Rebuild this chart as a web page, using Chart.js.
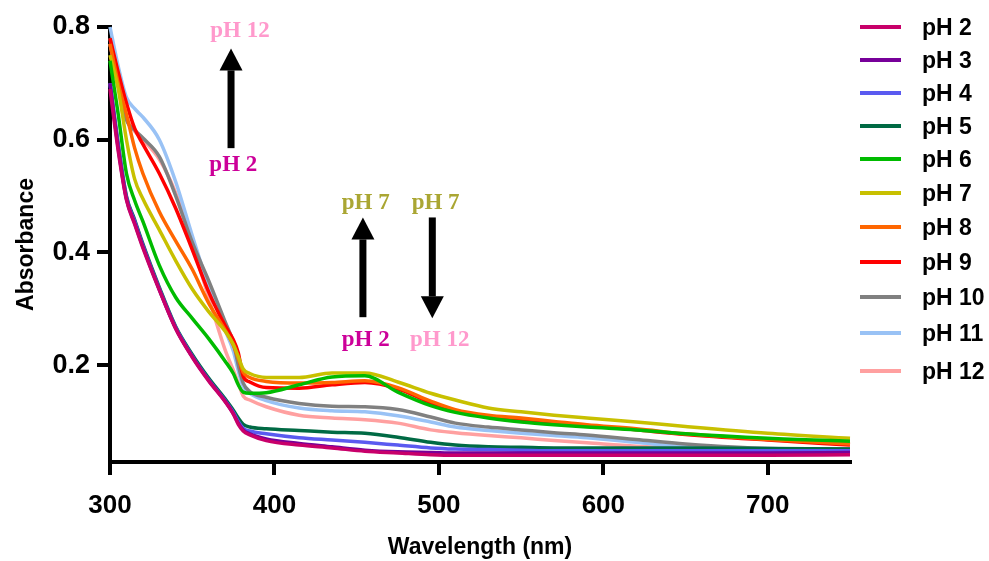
<!DOCTYPE html>
<html>
<head>
<meta charset="utf-8">
<script src="https://cdn.jsdelivr.net/npm/chart.js@4.4.0/dist/chart.umd.min.js"></script>
<style>
  html, body { margin: 0; padding: 0; background: #ffffff; }
  #wrap { position: relative; width: 989px; height: 561px; }
  #legend { position: absolute; left: 0; top: 0; width: 989px; height: 561px; pointer-events: none; }
  .li { position: absolute; left: 860px; height: 30px; display: flex; align-items: center; }
  .sw { width: 41px; height: 4px; margin-right: 21px; }
  .lt { font-family: "Liberation Sans", Arial, sans-serif; font-weight: bold; font-size: 23px; color: #000; white-space: nowrap; }
</style>
</head>
<body>
<div id="wrap">
  <canvas id="c" width="989" height="561"></canvas>
  <div id="legend"></div>
</div>
<script>
// ---- data ----
const wavelengths = [300,305,310,315,320,330,340,350,360,370,375,378,381,385,395,415,435,455,475,495,510,530,550,570,590,620,650,700,750];

const seriesNames = ["pH 2","pH 3","pH 4","pH 5","pH 6","pH 7","pH 8","pH 9","pH 10","pH 11","pH 12"];

const pH2  = [0.690,0.580,0.493,0.450,0.408,0.333,0.264,0.214,0.172,0.135,0.113,0.095,0.083,0.076,0.066,0.058,0.053,0.047,0.044,0.041,0.040,0.040,0.040,0.040,0.040,0.040,0.040,0.040,0.041];
const pH3  = [0.700,0.585,0.495,0.452,0.410,0.334,0.265,0.215,0.173,0.136,0.114,0.097,0.085,0.078,0.069,0.061,0.055,0.049,0.046,0.045,0.044,0.044,0.044,0.044,0.044,0.044,0.044,0.044,0.045];
const pH4  = [0.700,0.590,0.497,0.455,0.412,0.335,0.266,0.216,0.174,0.137,0.116,0.100,0.088,0.083,0.078,0.071,0.067,0.063,0.058,0.053,0.051,0.050,0.049,0.048,0.048,0.048,0.048,0.048,0.048];
const pH5  = [0.700,0.592,0.500,0.458,0.415,0.338,0.268,0.219,0.177,0.140,0.120,0.106,0.095,0.090,0.087,0.084,0.081,0.079,0.072,0.063,0.058,0.055,0.054,0.053,0.053,0.053,0.053,0.052,0.051];
const pH6  = [0.740,0.645,0.540,0.492,0.455,0.377,0.320,0.283,0.247,0.207,0.185,0.165,0.152,0.150,0.151,0.165,0.179,0.181,0.152,0.128,0.116,0.106,0.099,0.094,0.090,0.085,0.078,0.070,0.065];
const pH7  = [0.750,0.690,0.600,0.530,0.495,0.440,0.385,0.335,0.295,0.260,0.237,0.215,0.193,0.185,0.178,0.178,0.186,0.186,0.170,0.150,0.138,0.124,0.117,0.111,0.106,0.099,0.091,0.079,0.070];
const pH8  = [0.770,0.700,0.645,0.585,0.540,0.472,0.420,0.370,0.310,0.262,0.235,0.212,0.187,0.178,0.171,0.168,0.169,0.172,0.160,0.136,0.121,0.111,0.106,0.100,0.094,0.087,0.078,0.068,0.060];
const pH9  = [0.780,0.720,0.665,0.620,0.592,0.540,0.478,0.405,0.330,0.270,0.245,0.222,0.180,0.170,0.160,0.159,0.165,0.169,0.158,0.133,0.119,0.109,0.104,0.098,0.093,0.085,0.077,0.067,0.058];
const pH10 = [0.780,0.700,0.635,0.617,0.603,0.570,0.500,0.418,0.350,0.277,0.240,0.200,0.168,0.153,0.143,0.132,0.127,0.126,0.121,0.108,0.097,0.090,0.085,0.080,0.076,0.068,0.060,0.052,0.051];
const pH11 = [0.800,0.730,0.675,0.655,0.640,0.600,0.525,0.430,0.340,0.262,0.225,0.190,0.162,0.150,0.137,0.124,0.119,0.117,0.110,0.099,0.090,0.084,0.079,0.075,0.071,0.063,0.055,0.052,0.050];
const pH12 = [0.770,0.700,0.640,0.615,0.600,0.565,0.505,0.415,0.320,0.227,0.191,0.168,0.145,0.138,0.126,0.111,0.106,0.103,0.097,0.085,0.080,0.075,0.071,0.066,0.062,0.056,0.053,0.051,0.050];

const seriesValues = [pH2,pH3,pH4,pH5,pH6,pH7,pH8,pH9,pH10,pH11,pH12];
const seriesColors = ["#c8006a","#770099","#5a5af0","#006a44","#00bb00","#c8c000","#ff6600","#ff0000","#808080","#99c2f5","#ffa0a0"];

const xTicks = [300,400,500,600,700];
const yTicks = [0.2,0.4,0.6,0.8];

// annotations (data coordinates)
const annotTexts = [
  {t:"pH 12", x:379, y:0.793, c:"#ff99cc"},
  {t:"pH 2",  x:375, y:0.555, c:"#cc0099"},
  {t:"pH 7",  x:455.5, y:0.488, c:"#aaa633"},
  {t:"pH 7",  x:498, y:0.488, c:"#aaa633"},
  {t:"pH 2",  x:455.5, y:0.245, c:"#cc0099"},
  {t:"pH 12", x:500.5, y:0.245, c:"#ff99cc"}
];
const annotArrows = [
  {x:373.6, from:0.585, to:0.762},
  {x:453.8, from:0.285, to:0.462},
  {x:496.0, from:0.462, to:0.283}
];

// ---- chart ----
const datasets = seriesNames.map((n,i)=>({
  label: n,
  data: wavelengths.map((w,j)=>({x:w, y:seriesValues[i][j]})),
  borderColor: seriesColors[i],
  backgroundColor: seriesColors[i],
  borderWidth: 3.5,
  pointRadius: 0,
  fill: false,
  cubicInterpolationMode: 'monotone',
  clip: false
}));

const annotPlugin = {
  id: 'annot',
  afterDatasetsDraw(chart){
    const ctx = chart.ctx, xs = chart.scales.x, ys = chart.scales.y;
    ctx.save();
    ctx.fillStyle = '#000';
    annotArrows.forEach(a=>{
      const px = xs.getPixelForValue(a.x);
      const p0 = ys.getPixelForValue(a.from);
      const p1 = ys.getPixelForValue(a.to);
      const dir = p1 < p0 ? -1 : 1;
      const headLen = 22, headW = 23, shaftW = 7;
      const hb = p1 - dir*headLen;
      ctx.fillRect(px - shaftW/2, Math.min(p0,hb), shaftW, Math.abs(hb-p0));
      ctx.beginPath();
      ctx.moveTo(px - headW/2, hb);
      ctx.lineTo(px + headW/2, hb);
      ctx.lineTo(px, p1);
      ctx.closePath();
      ctx.fill();
    });
    ctx.font = 'bold 23px "Liberation Serif", "Times New Roman", serif';
    ctx.textAlign = 'center';
    ctx.textBaseline = 'middle';
    annotTexts.forEach(a=>{
      ctx.fillStyle = a.c;
      ctx.fillText(a.t, xs.getPixelForValue(a.x), ys.getPixelForValue(a.y));
    });
    ctx.restore();
  }
};

const sansBold = (s)=>({family:'"Liberation Sans", Arial, sans-serif', weight:'bold', size:s});

new Chart(document.getElementById('c'), {
  type: 'line',
  data: { datasets },
  plugins: [annotPlugin],
  options: {
    responsive: false,
    devicePixelRatio: 1,
    animation: false,
    layout: { padding: { top: 27, right: 139, bottom: 0, left: 0 } },
    plugins: { legend: { display: false }, tooltip: { enabled: false } },
    scales: {
      x: {
        type: 'linear', min: 300, max: 750,
        afterBuildTicks: (s)=>{ s.ticks = xTicks.map(v=>({value:v})); },
        afterFit: (s)=>{ s.height = 99; },
        border: { display: true, color: '#000', width: 4 },
        grid: { display: true, drawOnChartArea: false, drawTicks: true, tickLength: 13, color: '#000', lineWidth: 4 },
        ticks: { color: '#000', font: sansBold(26), padding: 15, maxRotation: 0 },
        title: { display: true, text: 'Wavelength (nm)', color: '#000', font: sansBold(23), padding: { top: 8, bottom: 0 } }
      },
      y: {
        type: 'linear', min: 0.028, max: 0.8,
        afterBuildTicks: (s)=>{ s.ticks = yTicks.map(v=>({value:v})); },
        afterFit: (s)=>{ s.width = 110; },
        border: { display: true, color: '#000', width: 4 },
        grid: { display: true, drawOnChartArea: false, drawTicks: true, tickLength: 13, color: '#000', lineWidth: 4 },
        ticks: { color: '#000', font: sansBold(27), padding: 7, callback: (v)=>v.toFixed(1) },
        title: { display: true, text: 'Absorbance', color: '#000', font: sansBold(23), padding: { top: 13, bottom: 0 } }
      }
    }
  }
});

// ---- legend (HTML) ----
const legendRowY = [27,60,93,126,159,193,227,262,297,333,371];
const lg = document.getElementById('legend');
seriesNames.forEach((n,i)=>{
  const d = document.createElement('div');
  d.className = 'li';
  d.style.top = (legendRowY[i]-15)+'px';
  d.innerHTML = '<div class="sw" style="background:'+seriesColors[i]+'"></div><span class="lt">'+n+'</span>';
  lg.appendChild(d);
});
</script>
</body>
</html>
